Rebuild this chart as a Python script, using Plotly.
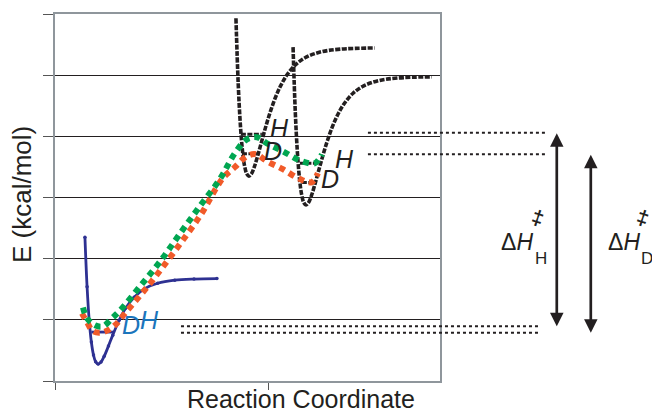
import plotly.graph_objects as go

# ---------------- data ----------------
# Reactant well (blue Morse-like curve)
blue_x = [0.140, 0.150, 0.160, 0.170, 0.180, 0.190, 0.202, 0.215, 0.230, 0.250,
          0.270, 0.300, 0.330, 0.370, 0.420, 0.480, 0.560, 0.650, 0.757]
blue_y = [2.35, 1.54, 0.99, 0.637, 0.425, 0.315, 0.276, 0.309, 0.404, 0.572,
          0.75, 0.993, 1.188, 1.37, 1.511, 1.598, 1.648, 1.667, 1.674]

# Black well A
a_x = [0.846, 0.8565, 0.8665, 0.8765, 0.8865, 0.8965, 0.9065, 0.9185, 0.9315, 0.9465,
       0.9665, 0.9865, 1.0065, 1.0315, 1.0565, 1.0865, 1.1265, 1.1765, 1.2465, 1.3365, 1.495]
a_y = [5.93, 4.865, 4.198, 3.767, 3.513, 3.386, 3.35, 3.389, 3.497, 3.667,
       3.921, 4.172, 4.400, 4.643, 4.837, 5.014, 5.176, 5.298, 5.383, 5.426, 5.445]

# Black well B
b_x = [1.113, 1.1235, 1.1335, 1.1435, 1.1535, 1.1635, 1.1735, 1.1855, 1.1985, 1.2135,
       1.2335, 1.2535, 1.2735, 1.2985, 1.3235, 1.3535, 1.3935, 1.4435, 1.5135, 1.6035, 1.762]
b_y = [5.458, 4.393, 3.726, 3.295, 3.041, 2.914, 2.878, 2.917, 3.025, 3.195,
       3.449, 3.700, 3.928, 4.171, 4.365, 4.542, 4.704, 4.826, 4.911, 4.954, 4.973]

# H path (green) and D path (red)
green_x = [0.131, 0.150, 0.187, 0.224, 0.266, 0.304, 0.397, 0.491, 0.584, 0.678,
           0.771, 0.841, 0.897, 0.944, 0.991, 1.065, 1.154, 1.215, 1.248]
green_y = [1.203, 1.024, 0.911, 0.894, 1.024, 1.154, 1.545, 1.951, 2.407, 2.862,
           3.301, 3.724, 3.951, 3.984, 3.886, 3.756, 3.593, 3.561, 3.707]
red_x = [0.126, 0.150, 0.178, 0.224, 0.280, 0.327, 0.444, 0.561, 0.678, 0.785,
         0.841, 0.897, 0.939, 0.991, 1.065, 1.145, 1.201, 1.229]
red_y = [1.106, 0.959, 0.813, 0.797, 0.911, 1.106, 1.593, 2.130, 2.699, 3.317,
         3.496, 3.675, 3.707, 3.593, 3.463, 3.301, 3.252, 3.398]

# zero-point levels inside wells: (x0, x1, level)
blue_zpe = (0.17, 0.275, 0.80)
well_levels = [(0.869, 0.967, 4.033), (0.874, 0.944, 3.715),
               (1.145, 1.238, 3.561), (1.154, 1.220, 3.244)]
well_labels = [("H", 1.051, 4.13), ("D", 1.019, 3.756), ("H", 1.355, 3.626), ("D", 1.285, 3.301)]

# energy guide levels
TS_H, TS_D, R_H, R_D = 4.057, 3.707, 0.894, 0.789
ts_x = (1.463, 2.299)
r_x = (0.589, 2.271)
arrow_H_x, arrow_D_x = 2.346, 2.505

# ---------------- layout constants ----------------
X_RANGE = [0, 1.8]
Y_RANGE = [0, 6]
W, H = 652, 413
ML, MR, MT, MB = 55, 212, 12, 32
PLOT_H = H - MT - MB
FONT = "Arial, 'Liberation Sans', sans-serif"
BLACK = "#231f20"


def xp(v):
    return (v - X_RANGE[0]) / (X_RANGE[1] - X_RANGE[0])


def yp(v):
    return (v - Y_RANGE[0]) / (Y_RANGE[1] - Y_RANGE[0])


def px_per_y():
    return PLOT_H / (Y_RANGE[1] - Y_RANGE[0])


def pxx(px):
    return (px - ML) / (W - ML - MR)


def pxy(py):
    return (H - MB - py) / PLOT_H


fig = go.Figure()

fig.add_trace(go.Scatter(x=blue_x, y=blue_y, mode="lines+markers",
                         line=dict(color="#2e3192", width=2.8, shape="spline"),
                         marker=dict(size=3.5, color="#2e3192")))
fig.add_trace(go.Scatter(x=[blue_zpe[0], blue_zpe[1]], y=[blue_zpe[2]] * 2, mode="lines",
                         line=dict(color="#2e3192", width=2.8)))

for xs, ys in [(a_x, a_y), (b_x, b_y)]:
    fig.add_trace(go.Scatter(x=xs, y=ys, mode="lines",
                             line=dict(color=BLACK, width=3.6, dash="5px,1.5px", shape="spline")))
for x0, x1, lv in well_levels:
    fig.add_trace(go.Scatter(x=[x0, x1], y=[lv, lv], mode="lines",
                             line=dict(color=BLACK, width=3, dash="5px,1.5px")))

fig.add_trace(go.Scatter(x=red_x, y=red_y, mode="lines",
                         line=dict(color="#f15a29", width=6, dash="6px,5px", shape="spline")))
fig.add_trace(go.Scatter(x=green_x, y=green_y, mode="lines",
                         line=dict(color="#00a651", width=6, dash="6px,5px", shape="spline")))

shapes = []
for lv, (x0, x1) in [(TS_H, ts_x), (TS_D, ts_x), (R_H, r_x), (R_D, r_x)]:
    shapes.append(dict(type="line", xref="paper", yref="paper",
                       x0=xp(x0), x1=xp(x1), y0=yp(lv), y1=yp(lv),
                       line=dict(color=BLACK, width=2, dash="3px,3px")))

ann = []
C = dict(xanchor="center", yanchor="middle", showarrow=False)
# labels in wells
for t, x, y in well_labels:
    ann.append(dict(x=x, y=y, xref="x", yref="y", text="<i>%s</i>" % t,
                    font=dict(family=FONT, size=25, color=BLACK), **C))
ann.append(dict(x=0.355, y=0.911, xref="x", yref="y", text="<i>D</i>",
                font=dict(family=FONT, size=25, color="#1b75bc"), **C))
ann.append(dict(x=0.444, y=0.990, xref="x", yref="y", text="<i>H</i>",
                font=dict(family=FONT, size=25, color="#1b75bc"), **C))

# arrows
for xa, top, bot in [(arrow_H_x, TS_H, R_H), (arrow_D_x, TS_D, R_D)]:
    ann.append(dict(x=xp(xa), y=yp(bot), xref="paper", yref="paper",
                    ax=0, ay=-(top - bot) * px_per_y(), axref="pixel", ayref="pixel",
                    text="", showarrow=True, arrowhead=2, startarrowhead=2,
                    arrowside="end+start", arrowsize=1.0, startarrowsize=1.0,
                    arrowwidth=2.7, arrowcolor=BLACK))

# delta H labels
for cx, sub, sx, dx in [(517, "H", 541, 538), (624, "D", 647, 643)]:
    ann.append(dict(x=pxx(cx), y=pxy(241), xref="paper", yref="paper",
                    text="Δ<i>H</i>",
                    font=dict(family=FONT, size=23, color=BLACK), **C))
    ann.append(dict(x=pxx(sx), y=pxy(258), xref="paper", yref="paper",
                    text=sub,
                    font=dict(family=FONT, size=17, color=BLACK), **C))
    ann.append(dict(x=pxx(dx), y=pxy(217), xref="paper", yref="paper",
                    text="<b>‡</b>", textangle=18,
                    font=dict(family=FONT, size=21, color=BLACK), **C))

# axis titles
ann.append(dict(x=pxx(22), y=pxy(194), xref="paper", yref="paper",
                text="E (kcal/mol)", textangle=-90,
                font=dict(family=FONT, size=26, color=BLACK), **C))
ann.append(dict(x=pxx(301), y=pxy(399), xref="paper", yref="paper",
                text="Reaction Coordinate",
                font=dict(family=FONT, size=25, color=BLACK), **C))

fig.update_layout(
    width=W, height=H, margin=dict(l=ML, r=MR, t=MT, b=MB),
    paper_bgcolor="white", plot_bgcolor="white", showlegend=False,
    shapes=shapes, annotations=ann,
    xaxis=dict(range=X_RANGE, showgrid=False, zeroline=False, showline=True, mirror=True,
               linecolor="#8f969c", linewidth=2, ticks="outside", tickvals=[0, 1],
               ticklen=7, tickcolor="#555", tickwidth=1.2, showticklabels=False),
    yaxis=dict(range=Y_RANGE, showgrid=True, gridcolor=BLACK, gridwidth=1, zeroline=False,
               showline=True, mirror=True, linecolor="#8f969c", linewidth=2,
               ticks="outside", tickvals=[0, 1, 2, 3, 4, 5, 6], ticklen=10,
               tickcolor="#555", tickwidth=1.2, showticklabels=False),
)

fig.write_html("out.html", config={"displayModeBar": False},
               post_script="document.body.style.margin='0';document.body.style.overflow='hidden';")
